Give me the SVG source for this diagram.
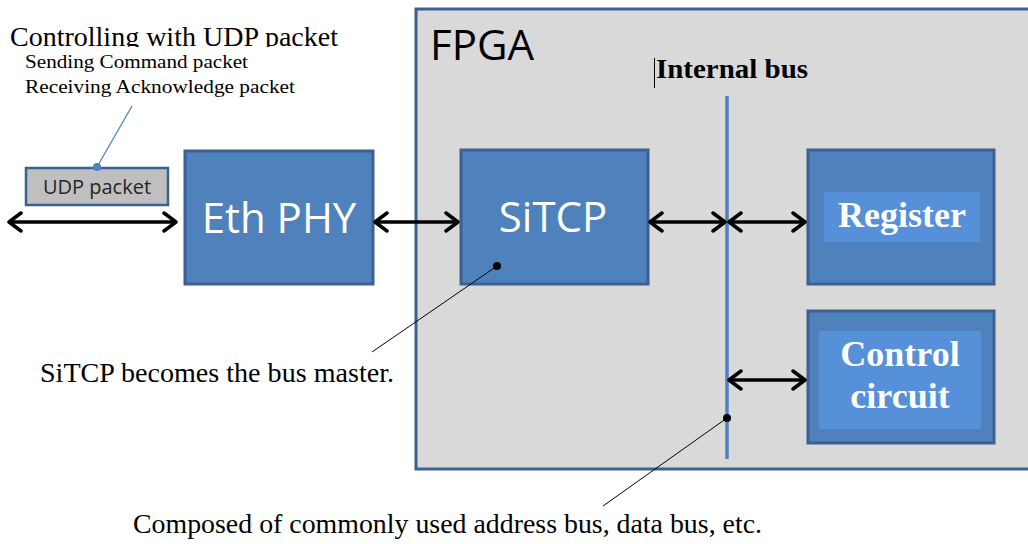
<svg xmlns="http://www.w3.org/2000/svg" width="1028" height="544" viewBox="0 0 1028 544">
<style>
.blk{fill:#4f81bd;stroke:#3a6190;stroke-width:3}
.inner{fill:#5590d8}
.sans{font-family:"Open Sans","Liberation Sans",sans-serif}
.serif{font-family:"Liberation Serif","Times New Roman",serif}
.wt{fill:#ffffff}
.conn{stroke:#000;stroke-width:3.5;fill:none}
.lead{stroke:#000;stroke-width:1;fill:none}
</style>
<defs>
<marker id="ah" viewBox="0 0 16 22" refX="14" refY="11" markerWidth="16" markerHeight="22" markerUnits="userSpaceOnUse" orient="auto-start-reverse">
<path d="M2,2 L14,11 L2,20" fill="none" stroke="#000" stroke-width="3.5" stroke-linecap="round" stroke-linejoin="round"/>
</marker>
<clipPath id="clipTop"><rect x="0" y="0" width="400" height="47"/></clipPath>
</defs>
<rect x="0" y="0" width="1028" height="544" fill="#ffffff"/>

<g id="fpga">
<rect x="416" y="9" width="620" height="460" fill="#d9d9d9" stroke="#3a6190" stroke-width="3"/>
<text x="430" y="60" class="sans" font-size="42" fill="#000">FPGA</text>
</g>

<g id="internal-bus">
<line x1="727" y1="96" x2="727" y2="459" stroke="#4f81bd" stroke-width="3.5"/>
<line x1="654.5" y1="58" x2="654.5" y2="88" stroke="#000" stroke-width="1"/>
<text x="656" y="78" class="serif" font-size="27" font-weight="bold" fill="#000" textLength="152" lengthAdjust="spacingAndGlyphs">Internal bus</text>
</g>

<g id="udp-labels">
<text x="10" y="46" class="serif" font-size="27" fill="#000" clip-path="url(#clipTop)" textLength="328" lengthAdjust="spacingAndGlyphs">Controlling with UDP packet</text>
<text x="25" y="68" class="serif" font-size="19" fill="#000" textLength="223" lengthAdjust="spacingAndGlyphs">Sending Command packet</text>
<text x="25" y="93" class="serif" font-size="19" fill="#000" textLength="270" lengthAdjust="spacingAndGlyphs">Receiving Acknowledge packet</text>
</g>

<g id="udp-packet">
<rect x="26" y="168" width="142" height="37" fill="#bfbfbf" stroke="#3a6190" stroke-width="2.5"/>
<text x="97" y="194" class="sans" font-size="20" fill="#262626" text-anchor="middle">UDP packet</text>
</g>

<g id="eth-phy">
<rect x="185" y="151" width="188" height="133" class="blk"/>
<text x="279" y="233" class="sans wt" font-size="42" text-anchor="middle">Eth PHY</text>
</g>

<g id="sitcp">
<rect x="461" y="150" width="187" height="134" class="blk"/>
<text x="553" y="232" class="sans wt" font-size="42" text-anchor="middle">SiTCP</text>
</g>

<g id="register">
<rect x="808" y="150" width="186" height="134" class="blk"/>
<rect x="824" y="192" width="156" height="50" class="inner"/>
<text x="902" y="227" class="serif wt" font-size="36" font-weight="bold" text-anchor="middle">Register</text>
</g>

<g id="control-circuit">
<rect x="808" y="311" width="186" height="132" class="blk"/>
<rect x="819" y="331" width="162" height="98" class="inner"/>
<text x="900" y="366" class="serif wt" font-size="36" font-weight="bold" text-anchor="middle">Control</text>
<text x="900" y="408" class="serif wt" font-size="36" font-weight="bold" text-anchor="middle">circuit</text>
</g>

<g id="annotations">
<text x="40" y="382" class="serif" font-size="27" fill="#000" textLength="354" lengthAdjust="spacingAndGlyphs">SiTCP becomes the bus master.</text>
<text x="133" y="533" class="serif" font-size="27" fill="#000" textLength="629" lengthAdjust="spacingAndGlyphs">Composed of commonly used address bus, data bus, etc.</text>
</g>

<g id="connectors">
<line x1="9" y1="222" x2="176" y2="222" class="conn" marker-start="url(#ah)" marker-end="url(#ah)"/>
<line x1="375" y1="222" x2="458" y2="222" class="conn" marker-start="url(#ah)" marker-end="url(#ah)"/>
<line x1="650" y1="222" x2="725" y2="222" class="conn" marker-start="url(#ah)" marker-end="url(#ah)"/>
<line x1="729" y1="222" x2="805" y2="222" class="conn" marker-start="url(#ah)" marker-end="url(#ah)"/>
<line x1="729" y1="380" x2="805" y2="380" class="conn" marker-start="url(#ah)" marker-end="url(#ah)"/>
<line x1="97" y1="167" x2="132" y2="106" stroke="#4f81bd" stroke-width="1.3"/>
<circle cx="97" cy="167" r="4" fill="#4f81bd"/>
<line x1="497" y1="266" x2="372" y2="352" class="lead"/>
<circle cx="497" cy="266" r="4" fill="#000"/>
<line x1="727" y1="418" x2="603" y2="506" class="lead"/>
<circle cx="727" cy="418" r="4" fill="#000"/>
</g>
</svg>
